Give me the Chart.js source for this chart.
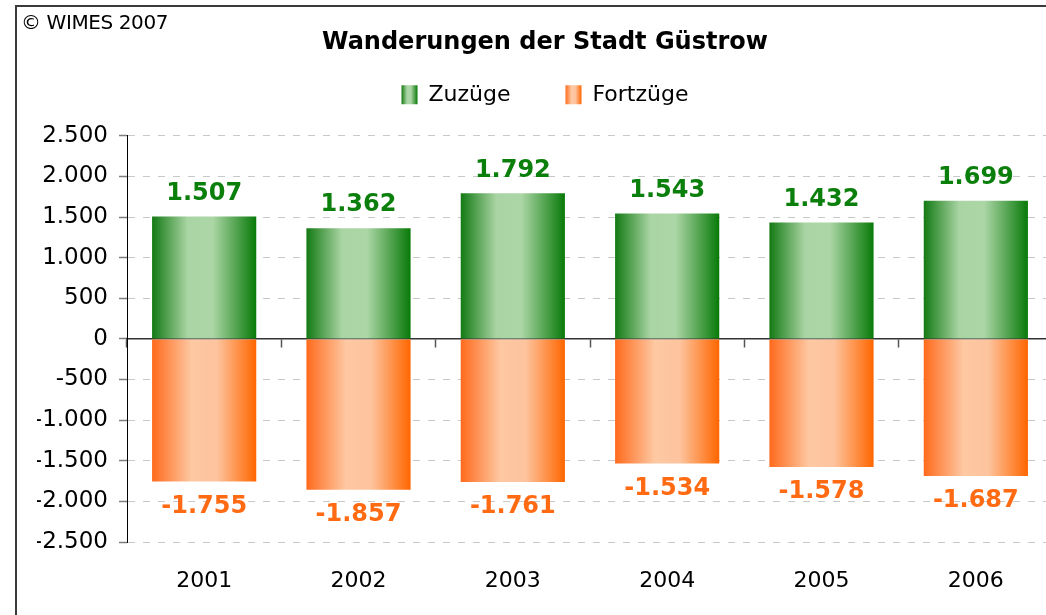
<!DOCTYPE html>
<html lang="de">
<head>
<meta charset="utf-8">
<title>Wanderungen der Stadt Güstrow</title>
<script src="https://cdn.jsdelivr.net/npm/chart.js@4.4.1/dist/chart.umd.min.js"></script>
<style>
  html, body { margin: 0; padding: 0; background: #fff; overflow: hidden; }
  body { width: 1046px; height: 615px; position: relative; }
  #rahmen {
    position: absolute; left: 15px; top: 5px; width: 1100px; height: 700px;
    border: 2px solid #3a3a3a; box-sizing: border-box;
  }
  #copy {
    position: absolute; left: 21px; top: 12px; font: 20px/1 "DejaVu Sans", Verdana, sans-serif;
    color: #000; letter-spacing: -0.4px;
  }
  #myChart { position: absolute; left: 0; top: 0; }
</style>
</head>
<body>
<div id="rahmen"></div>
<canvas id="myChart" width="1090" height="615"></canvas>
<div id="copy">© WIMES 2007</div>

<script>
// Daten
const jahre = ['2001', '2002', '2003', '2004', '2005', '2006'];
const zuzuege = [1507, 1362, 1792, 1543, 1432, 1699];
const fortzuege = [-1755, -1857, -1761, -1534, -1578, -1687];
const serienNamen = ['Zuzüge', 'Fortzüge'];
const yMin = -2500;
const yMax = 2500;
const yStep = 500;

// Farben (Verlauf von Rand zu Mitte)
const gruenStops = [[0, '#137a13'], [0.34, '#a9d4a3'], [0.58, '#acd6a6'], [1, '#087a08']];
const orangeStops = [[0, '#ff6a1c'], [0.38, '#fdc8a2'], [0.62, '#fdc49e'], [1, '#ff6600']];
const labelFarben = ['#0b7f0b', '#ff6a13'];

// Zahlen im deutschen Format, z.B. 1.507
function fmt(v) {
    const s = String(Math.abs(v)).replace(/\B(?=(\d{3})+(?!\d))/g, '.');
    return (v < 0 ? '-' : '') + s;
}

const barAnteil = 0.75 * 0.9;

// Verlauf pro Balken, horizontal
function balkenVerlauf(stops) {
    return function (c) {
        const chart = c.chart;
        const x = chart.scales.x;
        if (c.type !== 'data' || !chart.chartArea || !x) return stops[1][1];
        const w = x.width / jahre.length * barAnteil;
        const cx = x.getPixelForValue(c.dataIndex);
        const g = chart.ctx.createLinearGradient(cx - w / 2, 0, cx + w / 2, 0);
        stops.forEach(s => g.addColorStop(s[0], s[1]));
        return g;
    };
}

// Werte über/unter den Balken
const wertLabels = {
    id: 'wertLabels',
    afterDatasetsDraw(chart) {
        const ctx = chart.ctx;
        ctx.save();
        ctx.font = 'bold 24px "DejaVu Sans", Verdana, sans-serif';
        ctx.textAlign = 'center';
        ctx.textBaseline = 'middle';
        chart.data.datasets.forEach((ds, di) => {
            const meta = chart.getDatasetMeta(di);
            ctx.fillStyle = labelFarben[di];
            meta.data.forEach((bar, i) => {
                const v = ds.data[i];
                ctx.fillText(fmt(v), bar.x, v >= 0 ? bar.y - 23 : bar.y + 25);
            });
        });
        ctx.restore();
    }
};

// Legendenkästchen auch mit Verlauf
const legendeVerlauf = {
    id: 'legendeVerlauf',
    beforeDraw(chart) {
        const lg = chart.legend;
        if (!lg || !lg.legendItems) return;
        const alle = [gruenStops, orangeStops];
        lg.legendItems.forEach((item, i) => {
            const hb = lg.legendHitBoxes[i];
            if (!hb) return;
            const g = chart.ctx.createLinearGradient(hb.left, 0, hb.left + 16, 0);
            alle[i].forEach(s => g.addColorStop(s[0], s[1]));
            item.fillStyle = g;
        });
    }
};

Chart.defaults.font.family = '"DejaVu Sans", Verdana, sans-serif';
Chart.defaults.color = '#000';

const ctx = document.getElementById('myChart').getContext('2d');

const myChart = new Chart(ctx, {
    type: 'bar',
    data: {
        labels: jahre,
        datasets: [{
            label: serienNamen[0],
            data: zuzuege,
            backgroundColor: balkenVerlauf(gruenStops),
            borderWidth: 0,
            categoryPercentage: 0.75,
            barPercentage: 0.9
        }, {
            label: serienNamen[1],
            data: fortzuege,
            backgroundColor: balkenVerlauf(orangeStops),
            borderWidth: 0,
            categoryPercentage: 0.75,
            barPercentage: 0.9
        }]
    },
    options: {
        responsive: false,
        animation: false,
        layout: { padding: { left: 37, right: 37, top: 0, bottom: 0 } },
        plugins: {
            title: {
                display: true,
                text: 'Wanderungen der Stadt Güstrow',
                font: { size: 24, weight: 'bold' },
                color: '#000',
                padding: { top: 28, bottom: 0 }
            },
            legend: {
                display: true,
                labels: {
                    font: { size: 22 },
                    color: '#000',
                    boxWidth: 16,
                    boxHeight: 19,
                    padding: 27,
                    generateLabels(chart) {
                        const items = Chart.defaults.plugins.legend.labels.generateLabels(chart);
                        // Abstand zwischen den Einträgen
                        items[0].text = items[0].text + '    ';
                        return items;
                    }
                }
            },
            tooltip: { enabled: false }
        },
        scales: {
            x: {
                stacked: true,
                position: 'bottom',
                grid: { display: false, drawTicks: false },
                border: { display: false },
                ticks: { font: { size: 22 }, color: '#000', padding: 26 },
                afterFit(s) { s.height = 73; }
            },
            x0: {
                type: 'category',
                axis: 'x',
                position: { y: 0 },
                offset: true,
                z: 1,
                grid: {
                    offset: true,
                    drawOnChartArea: false,
                    drawTicks: true,
                    tickLength: 8,
                    tickColor: '#555',
                    tickWidth: 1.5
                },
                border: { display: true, color: '#333', width: 1.5 },
                ticks: { display: false }
            },
            xTop: {
                type: 'category',
                axis: 'x',
                position: 'top',
                grid: { display: false, drawTicks: false },
                border: { display: false },
                ticks: { display: false },
                afterFit(s) { s.height = 20; }
            },
            y: {
                stacked: true,
                min: yMin,
                max: yMax,
                ticks: {
                    stepSize: yStep,
                    font: { size: 23 },
                    color: '#000',
                    padding: 11,
                    callback: v => fmt(v)
                },
                grid: {
                    color: c => (c.tick && c.tick.value === 0) ? 'rgba(0,0,0,0)' : '#c8c8c8',
                    lineWidth: 1,
                    tickLength: 8,
                    tickColor: '#7f7f7f',
                    tickWidth: 1.5
                },
                border: { display: true, color: '#000', width: 1, dash: [7, 8] },
                afterFit(s) { s.width = 90; }
            }
        }
    },
    plugins: [wertLabels, legendeVerlauf]
});
</script>
</body>
</html>
